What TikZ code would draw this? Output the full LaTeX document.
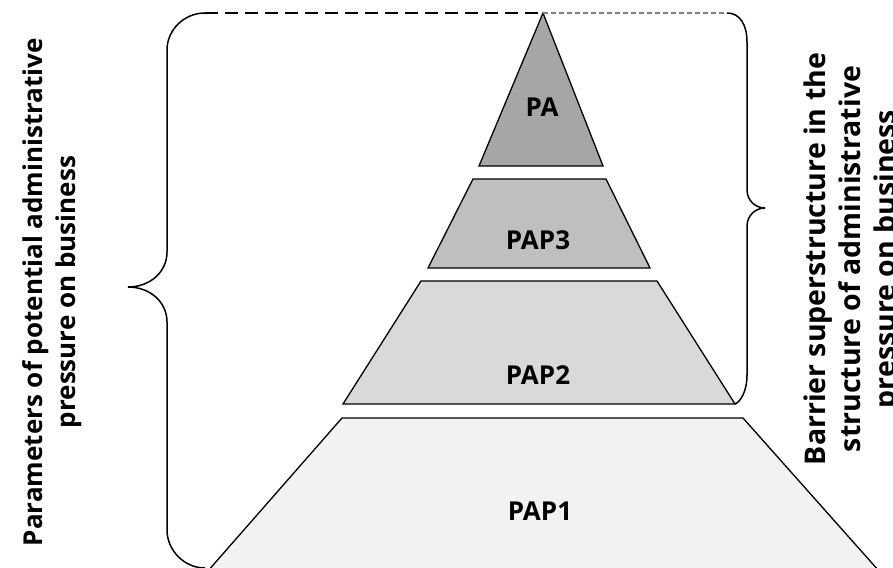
\documentclass[tikz,border=0pt]{standalone}
\usepackage{fontspec}
\setmainfont{Open Sans}
\begin{document}
\begin{tikzpicture}[x=1pt,y=-1pt,
  layer/.style={draw=black, line width=1.3pt, line join=miter},
  lbl/.style={font=\bfseries\fontsize{26}{30}\selectfont, inner sep=0pt},
  side/.style={font=\bfseries, align=center, rotate=90, inner sep=0pt},
  brace/.style={draw=black, line width=1.5pt},
  blackdash/.style={draw=black, line width=1.5pt, dash pattern=on 13pt off 7pt},
  greydash/.style={draw=black!50, line width=1.2pt, dash pattern=on 5pt off 3pt}]
\clip (0,0) rectangle (893,567);
\fill[white] (0,0) rectangle (893,567);
% coordinates
\coordinate (apex) at (543,13);
\coordinate (lbtop) at (205,13);
\coordinate (rbtop) at (727,13);
\coordinate (pap2br) at (735,404);
% layers
\path[layer, fill=black!35] (apex) -- (603,166) -- (479,166) -- cycle;
\path[layer, fill=black!25] (473,179) -- (606,179) -- (650,268) -- (428,268) -- cycle;
\path[layer, fill=black!15] (421,281) -- (657,281) -- (pap2br) -- (343,404) -- cycle;
\path[layer, fill=black!5] (342,418) -- (743,418) -- (887,580) -- (200,580) -- cycle;
% labels
\node[lbl] (pa) at (542,107) {PA};
\node[lbl] (pap3) at (538,240) {PAP3};
\node[lbl] (pap2) at (538,375) {PAP2};
\node[lbl] (pap1) at (540,511) {PAP1};
% dashed top lines
\draw[blackdash] (lbtop) -- (apex);
\draw[greydash] (apex) -- (rbtop);
% left brace
\draw[brace] (lbtop) .. controls (184,13) and (167,30) .. (167,50) -- (167,252)
  .. controls (167,272) and (150,287) .. (128,287)
  .. controls (150,287) and (167,302) .. (167,322) -- (167,530)
  .. controls (167,550) and (184,568) .. (205,568);
% right brace
\draw[brace] (rbtop) .. controls (740,13) and (747,25) .. (747,42) -- (747,190)
  .. controls (747,200) and (755,208) .. (765,208)
  .. controls (755,208) and (747,216) .. (747,226) -- (747,375)
  .. controls (747,392) and (740,402) .. (pap2br);
% side texts
\node[side, font=\bfseries\fontsize{26}{33}\selectfont] (lefttext) at (52,292) {Parameters of potential administrative\\pressure on business};
\node[side, font=\bfseries\fontsize{28.5}{35}\selectfont] (righttext) at (853,259) {Barrier superstructure in the\\structure of administrative\\pressure on business};
\end{tikzpicture}
\end{document}
